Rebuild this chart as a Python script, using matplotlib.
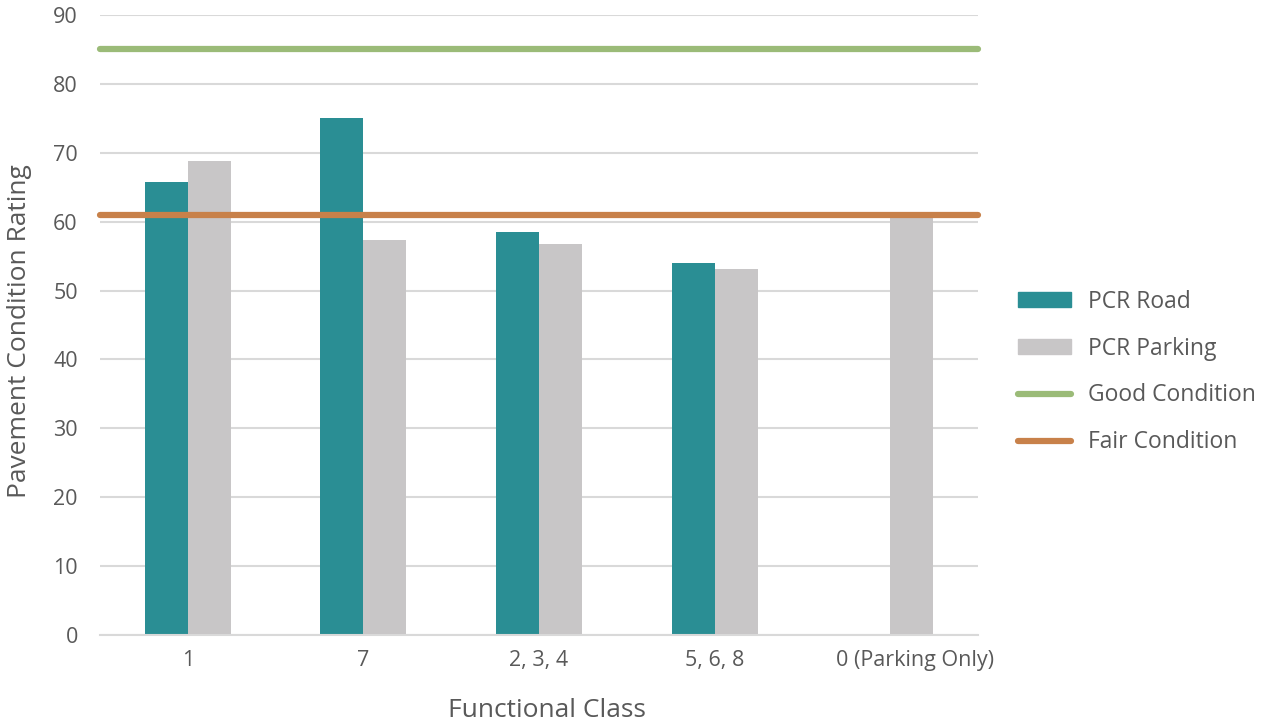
import matplotlib.pyplot as plt
import matplotlib.transforms as mtransforms
import numpy as np
from matplotlib.lines import Line2D
from matplotlib.patches import Patch

plt.rcParams['font.family'] = ['Open Sans', 'DejaVu Sans']

classes = ['1', '7', '2, 3, 4', '5, 6, 8', '0 (Parking Only)']
pcr_road = [65.7, 75.0, 58.5, 54.0, 0]
pcr_parking = [68.8, 57.3, 56.7, 53.1, 60.8]
good_condition = 85
fair_condition = 61

teal = '#2A8E94'
grey = '#C8C6C7'
green = '#9BBB78'
orange = '#C8814A'
text_color = '#595959'

fig = plt.figure(figsize=(12.61, 7.23), dpi=100)
ax = fig.add_axes([100 / 1261, 1 - 635 / 723, 878 / 1261, 620 / 723])

x = np.arange(len(classes))
w = 0.245
ax.bar(x - w / 2, pcr_road, w, color=teal, zorder=2)
ax.bar(x + w / 2, pcr_parking, w, color=grey, zorder=2)

ax.plot([-0.5, 4.5], [good_condition] * 2, color=green, lw=4.5,
        solid_capstyle='round', clip_on=False, zorder=3)
ax.plot([-0.5, 4.5], [fair_condition] * 2, color=orange, lw=4.5,
        solid_capstyle='round', clip_on=False, zorder=3)

ax.set_xlim(-0.5, 4.5)
ax.set_ylim(0, 90)
ax.set_yticks(range(0, 91, 10))
ax.set_xticks(x)
ax.set_xticklabels(classes)
ax.yaxis.grid(True, color='#D9D9D9', lw=1.5, zorder=0)
for s in ['top', 'right', 'left']:
    ax.spines[s].set_visible(False)
ax.spines['bottom'].set_color('#D9D9D9')
ax.spines['bottom'].set_linewidth(1.5)
ax.tick_params(axis='both', length=0, colors=text_color, labelsize=15.5)
ax.tick_params(axis='y', pad=16)
ax.tick_params(axis='x', pad=11)

# the long last label sits a little right of its slot
last = ax.get_xticklabels()[-1]
last.set_transform(last.get_transform() +
                   mtransforms.ScaledTranslation(0.25, 0, fig.dpi_scale_trans))

ax.set_xlabel('Functional Class', fontsize=19, color=text_color)
ax.xaxis.set_label_coords(0.509, -0.101)
ax.set_ylabel('Pavement Condition Rating', fontsize=19, color=text_color)
ax.yaxis.set_label_coords(-0.077, 0.49)

handles = [
    Patch(color=teal),
    Patch(color=grey),
    Line2D([], [], color=green, lw=4.5, solid_capstyle='round'),
    Line2D([], [], color=orange, lw=4.5, solid_capstyle='round'),
]
labels = ['PCR Road', 'PCR Parking', 'Good Condition', 'Fair Condition']
fig.legend(handles, labels, loc='center left', bbox_to_anchor=(1018 / 1261, 1 - 372 / 723),
           frameon=False, fontsize=16.5, labelcolor=text_color, handlelength=2.3,
           handleheight=0.65, labelspacing=1.0, handletextpad=0.75,
           borderpad=0, borderaxespad=0)

fig.savefig('out.png', dpi=100)
